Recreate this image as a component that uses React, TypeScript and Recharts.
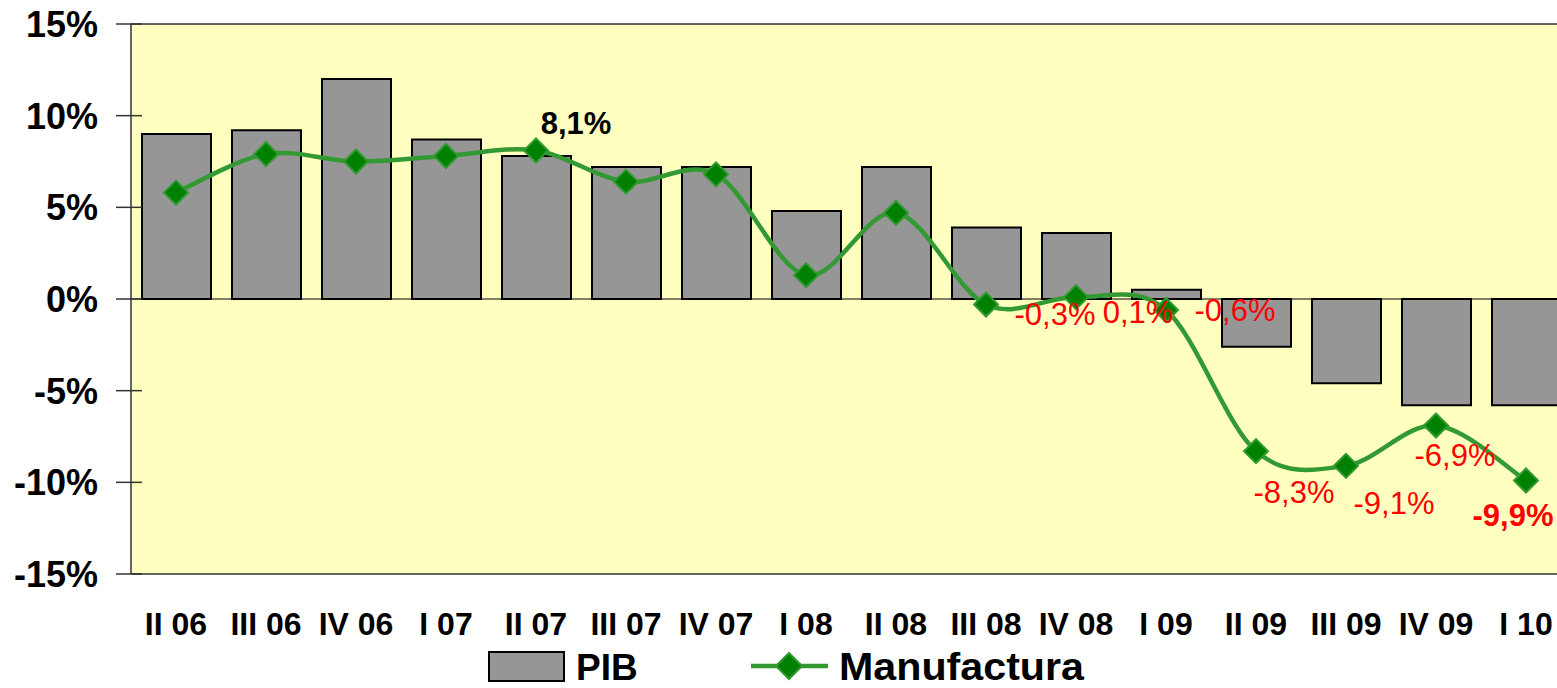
import {Bar, CartesianGrid, ComposedChart, Legend, Line, ReferenceLine, XAxis, YAxis} from "recharts";

const quarters = ["II 06", "III 06", "IV 06", "I 07", "II 07", "III 07", "IV 07", "I 08",
    "II 08", "III 08", "IV 08", "I 09", "II 09", "III 09", "IV 09", "I 10"];
const pib = [9.0, 9.2, 12.0, 8.7, 7.8, 7.2, 7.2, 4.8, 7.2, 3.9, 3.6, 0.5, -2.6, -4.6, -5.8, -5.8];
const manufactura = [5.8, 7.9, 7.5, 7.8, 8.1, 6.4, 6.8, 1.3, 4.7, -0.3, 0.1, -0.6, -8.3, -9.1, -6.9, -9.9];
const yTicks = [15, 10, 5, 0, -5, -10, -15];

// which points get a value label, and how it is drawn
const labelStyle: Record<number, { dx: number; dy: number; color: string; bold: boolean }> = {
    4: {dx: 40, dy: -27, color: "#000", bold: true},
    9: {dx: 69, dy: 10, color: "#ff0000", bold: false},
    10: {dx: 62, dy: 15, color: "#ff0000", bold: false},
    11: {dx: 69, dy: 0, color: "#ff0000", bold: false},
    12: {dx: 38, dy: 41, color: "#ff0000", bold: false},
    13: {dx: 48, dy: 38, color: "#ff0000", bold: false},
    14: {dx: 19, dy: 30, color: "#ff0000", bold: false},
    15: {dx: -13, dy: 35, color: "#ff0000", bold: true},
};

const FONT = '"Liberation Sans", Arial, sans-serif';

const data = quarters.map((q, i) => ({q, pib: pib[i], manufactura: manufactura[i]}));

// excel-like smoothed line (catmull-rom)
const smoothCurve = (context: any) => {
    let pts: number[][] = [];
    return {
        areaStart() {},
        areaEnd() {},
        lineStart() { pts = []; },
        point(x: number, y: number) { pts.push([+x, +y]); },
        lineEnd() {
            if (!pts.length) return;
            context.moveTo(pts[0][0], pts[0][1]);
            for (let i = 0; i < pts.length - 1; i++) {
                const p0 = pts[i - 1] || pts[i];
                const p1 = pts[i];
                const p2 = pts[i + 1];
                const p3 = pts[i + 2] || p2;
                context.bezierCurveTo(
                    p1[0] + (p2[0] - p0[0]) / 6, p1[1] + (p2[1] - p0[1]) / 6,
                    p2[0] - (p3[0] - p1[0]) / 6, p2[1] - (p3[1] - p1[1]) / 6,
                    p2[0], p2[1]);
            }
        },
    };
};

const YTick = ({x, y, payload}: any) => (
    <g>
        <line x1={x - 13} x2={x + 13} y1={y} y2={y} stroke="#333" strokeWidth={1.5}/>
        <text x={x - 31} y={y + 13} textAnchor="end" fontSize={36} fontWeight="bold"
              fontFamily={FONT} fill="#000">{payload.value}%</text>
    </g>
);

const XTick = ({x, y, payload}: any) => (
    <text x={x} y={y + 59} textAnchor="middle" fontSize={32} fontWeight="bold"
          fontFamily={FONT} fill="#000">{payload.value}</text>
);

const Diamond = ({cx, cy, index}: any) => (
    <path key={`d-${index}`} d={`M${cx},${cy - 12} L${cx + 12},${cy} L${cx},${cy + 12} L${cx - 12},${cy} Z`}
          fill="#008000" stroke="#2f9a2f" strokeWidth={2}/>
);

const PointLabel = ({x, y, value, index}: any) => {
    const s = labelStyle[index];
    if (!s) return null;
    return (
        <text key={`l-${index}`} x={x + s.dx} y={y + s.dy} textAnchor="middle" dominantBaseline="central"
              fontSize={31} fontWeight={s.bold ? "bold" : "normal"} fontFamily={FONT} fill={s.color}>
            {value.toFixed(1).replace(".", ",")}%
        </text>
    );
};

const LegendBox = () => (
    <svg width={1580} height={44}>
        <rect x={489} y={8} width={75} height={29} fill="#969696" stroke="#000" strokeWidth={2}/>
        <text x={576} y={36} fontSize={37} fontWeight="bold" fontFamily={FONT} fill="#000">PIB</text>
        <line x1={751} x2={828} y1={22} y2={22} stroke="#339933" strokeWidth={4.5}/>
        <path d="M789,9 L802,22 L789,35 L776,22 Z" fill="#008000" stroke="#2f9a2f" strokeWidth={2}/>
        <text x={839} y={36} fontSize={38} fontWeight="bold" fontFamily={FONT} fill="#000"
              textLength={245} lengthAdjust="spacingAndGlyphs">Manufactura</text>
    </svg>
);

const App = () => {
    return (
        <div style={{width: 1580, height: 688}}>
            <style>{"body{margin:0;overflow:hidden}"}</style>
            <ComposedChart width={1580} height={688} data={data}
                           margin={{top: 24, right: 9, left: 0, bottom: 0}}>
                <CartesianGrid fill="#ffffc0" horizontal={false} vertical={false}/>
                <XAxis dataKey="q" height={70} tick={<XTick/>} tickLine={false} tickSize={0}
                       axisLine={{stroke: "#333", strokeWidth: 1.5}} interval={0}/>
                <YAxis domain={[-15, 15]} ticks={yTicks} width={131} tick={<YTick/>} tickLine={false}
                       tickSize={0} axisLine={{stroke: "#333", strokeWidth: 1.5}} interval={0}/>
                <ReferenceLine y={15} stroke="#333" strokeWidth={1.5}/>
                <ReferenceLine y={0} stroke="#000" strokeWidth={1}/>
                <Bar dataKey="pib" name="PIB" fill="#969696" stroke="#000" strokeWidth={2}
                     barSize={69} isAnimationActive={false}/>
                <Line type={smoothCurve as any} dataKey="manufactura" name="Manufactura" stroke="#339933"
                      strokeWidth={4.5} dot={(p: any) => <Diamond {...p}/>} activeDot={false}
                      label={(p: any) => <PointLabel {...p}/>} isAnimationActive={false}/>
                <Legend verticalAlign="bottom" height={44} content={() => <LegendBox/>}
                        wrapperStyle={{left: 0, width: 1580}}/>
            </ComposedChart>
        </div>
    );
};

export default App;
